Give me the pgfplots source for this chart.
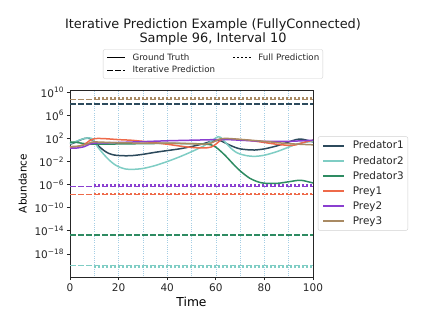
\documentclass[border=0pt]{standalone}
\usepackage{fontspec}
\setmainfont{DejaVu Sans}
\usepackage{pgfplots}
\pgfplotsset{compat=1.18}
\definecolor{cPa}{HTML}{2C4A5C}
\definecolor{cPb}{HTML}{7FCDC4}
\definecolor{cPc}{HTML}{2E8B62}
\definecolor{cRa}{HTML}{EE6A4A}
\definecolor{cRb}{HTML}{8A3FD0}
\definecolor{cRc}{HTML}{A98A63}
\definecolor{vline}{RGB}{165,206,228}
\newcommand{\sci}[1]{10\raisebox{0.42em}{\fontsize{7.4bp}{8bp}\selectfont #1}}
\pgfplotsset{
  gt/.style={line width=1.5bp, smooth, tension=0.45},
  ip/.style={line width=1.5bp, dash pattern=on 5.6bp off 2.4bp, forget plot},
  fp/.style={line width=1.5bp, dash pattern=on 1.5bp off 2.5bp, forget plot},
}
\begin{document}
\begin{tikzpicture}
\path[use as bounding box] (-70bp,-51bp) rectangle (356bp,277bp);
\begin{axis}[
  at={(0,0)}, anchor=south west,
  scale only axis, width=243bp, height=187bp,
  xmin=0, xmax=100, ymode=log, ymin=1e-22, ymax=2.5e10,
  axis line style={line width=0.7bp, black!85},
  tick align=outside, xtick pos=bottom, ytick pos=left,
  major tick length=3bp,
  tick style={line width=0.7bp, black!85},
  xtick={0,20,40,60,80,100},
  ytick={1e-18,1e-14,1e-10,1e-6,1e-2,1e2,1e6,1e10},
  yticklabels={\sci{−18},\sci{−14},\sci{−10},\sci{−6},\sci{−2},\sci{2},\sci{6},\sci{10}},
  minor ytick={}, minor xtick={},
  /pgf/number format/assume math mode=true,
  ticklabel style={font=\fontsize{10.5bp}{12bp}\selectfont, text=black!85},
  xlabel={Time}, ylabel={Abundance},
  xlabel style={font=\fontsize{12.3bp}{14bp}\selectfont, at={(axis description cs:0.5,-0.132)}, anchor=center},
  ylabel style={font=\fontsize{10.5bp}{12bp}\selectfont, at={(axis description cs:-0.195,0.5)}, anchor=center},
  legend style={at={(axis description cs:1.02,0.5)}, anchor=west,
    font=\fontsize{10.4bp}{12bp}\selectfont, draw=black!18, rounded corners=2bp,
    inner xsep=4.2bp, inner ysep=4.5bp, row sep=5.7bp, text=black!85,
    nodes={inner sep=0pt},
    /tikz/every odd column/.append style={column sep=8.3bp},
    /tikz/every even column/.append style={text height=7.9bp, text depth=2.5bp}},
  legend cell align=left,
  legend image code/.code={\draw[#1] (0bp,0bp) -- (20.8bp,0bp);},
]
\pgfplotsinvokeforeach{10,20,30,40,50,60,70,80,90}{
  \addplot[vline, line width=0.55bp, dash pattern=on 0.8bp off 1.4bp, forget plot] coordinates {(#1,1e-23) (#1,1e11)};
}
% Ground truth
\addplot[gt, cPa] coordinates {(0,10) (2,20) (4,50) (6,100) (7,112) (8,100) (10,31.6) (12,3.98) (14,0.794) (16,0.251) (18,0.141) (20,0.112) (23,0.1) (26,0.112) (30,0.178) (35,0.398) (40,0.794) (45,1.58) (50,3.98) (55,12.6) (58,31.6) (60,50.1) (62,39.8) (64,15.8) (66,6.31) (68,2.82) (70,1.58) (73,1.12) (76,1) (80,1.58) (85,5.01) (90,25.1) (93,63.1) (95,79.4) (97,56.2) (100,25.1)};
\addlegendentry{Predator1}
\addplot[gt, cPb] coordinates {(0,12.6) (2,25.1) (4,56.2) (6,100) (8,126) (9,100) (10,25.1) (12,1.58) (14,0.158) (16,0.02) (18,3.98e-3) (20,1.26e-3) (23,5.01e-4) (26,4.47e-4) (30,6.31e-4) (35,2e-3) (40,1e-2) (45,6.31e-2) (50,0.501) (55,5.01) (58,31.6) (60,126) (61,200) (62,158) (64,20) (66,2.51) (68,0.501) (70,0.2) (73,0.1) (76,7.94e-2) (80,0.126) (85,0.501) (90,3.16) (93,10) (95,15.8) (98,25.1) (100,31.6)};
\addlegendentry{Predator2}
\addplot[gt, cPc] coordinates {(0,25.1) (3,20) (6,12.6) (10,10) (20,11.2) (30,12.6) (40,14.1) (50,12.6) (55,11.2) (58,7.94) (60,3.16) (62,0.631) (64,0.1) (66,1.26e-2) (68,1.58e-3) (70,2.51e-4) (72,5.01e-5) (74,1.26e-5) (76,5.01e-6) (78,2.51e-6) (80,1.78e-6) (83,1.58e-6) (86,1.78e-6) (90,3.16e-6) (94,5.62e-6) (96,5.01e-6) (98,3.16e-6) (100,2e-6)};
\addlegendentry{Predator3}
\addplot[gt, cRa] coordinates {(0,3.16) (3,3.98) (6,10) (8,39.8) (10,89.1) (12,100) (15,89.1) (20,63.1) (25,50.1) (30,31.6) (35,17.8) (40,10) (45,5.01) (50,2.82) (55,2.24) (58,3.16) (60,10) (62,50.1) (64,79.4) (70,63.1) (75,39.8) (80,20) (85,10) (90,6.31) (93,7.94) (96,20) (100,50.1)};
\addlegendentry{Prey1}
\addplot[gt, cRb] coordinates {(0,2) (3,2.24) (6,3.98) (8,10) (10,15.8) (15,17.8) (20,20) (30,28.2) (40,39.8) (50,50.1) (55,56.2) (60,63.1) (65,63.1) (70,50.1) (80,31.6) (90,31.6) (100,50.1)};
\addlegendentry{Prey2}
\addplot[gt, cRc] coordinates {(0,3.98) (3,4.47) (6,7.94) (8,15.8) (10,25.1) (20,17.8) (30,15.8) (40,15.8) (50,12.6) (55,10) (58,15.8) (60,39.8) (62,89.1) (65,100) (70,70.8) (80,31.6) (90,12.6) (100,7.94)};
\addlegendentry{Prey3}
% Iterative predictions
\addplot[ip, cPa] coordinates {(0,9.5e7) (100,9.5e7)};
\addplot[ip, cPb] coordinates {(0,1e-20) (100,1e-20)};
\addplot[ip, cPc] coordinates {(0,2e-15) (100,2e-15)};
\addplot[ip, cRa] coordinates {(0,1.8e-8) (100,1.8e-8)};
\addplot[ip, cRb] coordinates {(0,5e-7) (100,5e-7)};
\addplot[ip, cRc] coordinates {(0,5.2e8) (100,5.2e8)};
% Full predictions
\addplot[fp, cPa] coordinates {(10,9.5e7) (100,9.5e7)};
\addplot[fp, cPb] coordinates {(10,5e-21) (100,5e-21)};
\addplot[fp, cPc] coordinates {(10,2e-15) (100,2e-15)};
\addplot[fp, cRa] coordinates {(10,2.8e-8) (100,2.8e-8)};
\addplot[fp, cRb] coordinates {(10,8e-7) (100,8e-7)};
\addplot[fp, cRc] coordinates {(10,1.1e9) (100,1.1e9)};
\end{axis}
\begin{axis}[
  at={(0,0)}, anchor=south west,
  scale only axis, width=243bp, height=187bp,
  hide axis, xmin=0, xmax=1, ymin=0, ymax=1,
  legend columns=2,
  legend style={at={(axis description cs:0.5885,1.139)}, anchor=center,
    font=\fontsize{8.7bp}{10bp}\selectfont, draw=black!18, rounded corners=2bp,
    inner xsep=3.5bp, inner ysep=4.2bp, row sep=4.5bp, text=black!85,
    nodes={inner sep=0pt},
    /tikz/every odd column/.append style={column sep=7bp},
    /tikz/every even column/.append style={column sep=17.4bp, text height=6.6bp, text depth=1.9bp}},
  legend cell align=left,
  legend image code/.code={\draw[#1] (0bp,0bp) -- (17.4bp,0bp);},
]
\addlegendimage{black, line width=1.5bp}
\addlegendentry{Ground Truth}
\addlegendimage{black, line width=1.5bp, dash pattern=on 1.5bp off 2.5bp}
\addlegendentry{Full Prediction}
\addlegendimage{black, line width=1.5bp, dash pattern=on 5.6bp off 2.4bp}
\addlegendentry{Iterative Prediction}
\end{axis}
\node[font=\fontsize{12.9bp}{14bp}\selectfont, anchor=base, text=black!90] at (143bp,248.7bp) {Iterative Prediction Example (FullyConnected)};
\node[font=\fontsize{12.9bp}{14bp}\selectfont, anchor=base, text=black!90] at (143bp,234.3bp) {Sample 96, Interval 10};
\end{tikzpicture}
\end{document}
